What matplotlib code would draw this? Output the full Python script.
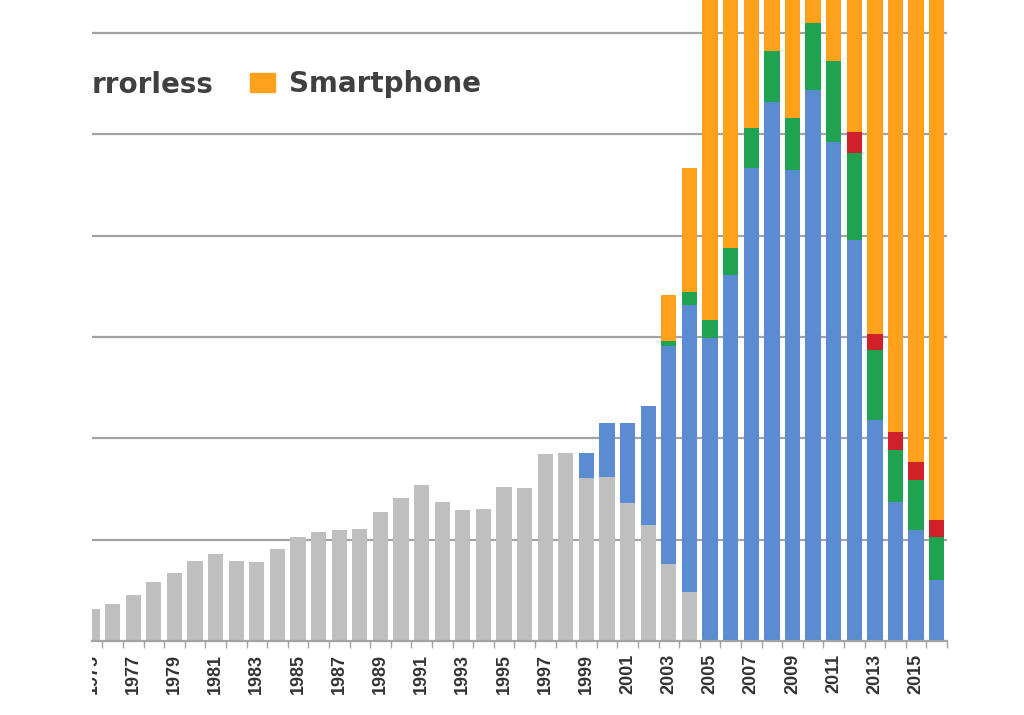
import matplotlib.pyplot as plt
import numpy as np
from matplotlib.patches import Patch
from matplotlib.transforms import Bbox

years = list(range(1975, 2017))

# millions of units per year
film = [6.3, 7.4, 9.1, 11.6, 13.5, 15.7, 17.2, 15.7, 15.5, 18.2,
        20.5, 21.5, 21.9, 22.2, 25.5, 28.3, 30.7, 27.5, 25.9, 26.0,
        30.5, 30.3, 36.9, 37.1, 32.1, 32.3, 27.3, 22.9, 15.3, 9.7,
        0, 0, 0, 0, 0, 0, 0, 0, 0, 0, 0, 0]
compact = [0] * 24 + [5.1, 10.8, 15.8, 23.4, 43.0, 56.6,
                      59.8, 72.3, 93.3, 106.5, 93.0, 108.8, 98.6, 79.2,
                      43.6, 27.5, 21.9, 12.0]
dslr = [0] * 28 + [0.9, 2.7, 3.6, 5.2, 7.9, 9.9, 10.2, 13.2, 16.0, 17.1,
                   13.8, 10.2, 9.9, 8.6]
mirrorless = [0] * 37 + [4.1, 3.3, 3.6, 3.6, 3.3]
smartphone = [0] * 28 + [9.1, 24.3, 80, 120, 175, 230, 280, 350, 470, 680,
                         970, 1240, 1420, 1470]

series = [("Film", film, "#bfbfbf"),
          ("Compact", compact, "#5b8bd0"),
          ("DSLR", dslr, "#1fa350"),
          ("Mirrorless", mirrorless, "#d0202a"),
          ("Smartphone", smartphone, "#ffa11a")]

fig = plt.figure(figsize=(10.24, 7.15), dpi=100)
ax = fig.add_axes([92 / 1024, 74 / 715, 855 / 1024, 641 / 715])

bottom = np.zeros(len(years))
for name, vals, col in series:
    vals = np.array(vals, dtype=float)
    ax.bar(years, vals, width=0.74, bottom=bottom, color=col, zorder=3)
    bottom += vals

ax.set_xlim(1975.33, 2016.44)
ax.set_ylim(0, 126.55)

for y in range(20, 140, 20):
    ax.axhline(y, color="#a3a3a3", lw=1.6, zorder=1)

for s in ["top", "right", "left"]:
    ax.spines[s].set_visible(False)
ax.spines["bottom"].set_color("#a3a3a3")
ax.spines["bottom"].set_linewidth(1.6)
ax.spines["bottom"].set_zorder(4)
ax.set_yticks([])

ax.set_xticks(range(1975, 2017, 2))
ax.set_xticks(np.arange(1975.5, 2016.6, 1), minor=True)
ax.tick_params(axis="x", which="major", length=0, pad=9)
ax.tick_params(axis="x", which="minor", length=5, width=1, color="#a3a3a3")
ax.set_xticklabels([str(y) for y in range(1975, 2017, 2)], rotation=90,
                   fontsize=13, fontweight="bold", color="#333333",
                   family="Liberation Sans")
clip = Bbox.from_extents(92, 0, 1024, 715)
for lbl in ax.get_xticklabels():
    lbl.set_clip_box(clip)
    lbl.set_clip_on(True)

# cropped legend
fig.text(92 / 1024, 1 - 93 / 715, "rrorless", fontsize=20, fontweight="bold",
         color="#404040", va="baseline", ha="left", family="DejaVu Sans")
fig.legend(handles=[Patch(color="#ffa11a", label="Smartphone")],
           loc="center left", bbox_to_anchor=(250 / 1024, 1 - 84 / 715),
           frameon=False, borderpad=0, borderaxespad=0,
           handlelength=0.9, handleheight=0.65, handletextpad=0.5,
           prop={"size": 20, "weight": "bold", "family": "DejaVu Sans"},
           labelcolor="#404040")

fig.savefig("out.png", dpi=100)
